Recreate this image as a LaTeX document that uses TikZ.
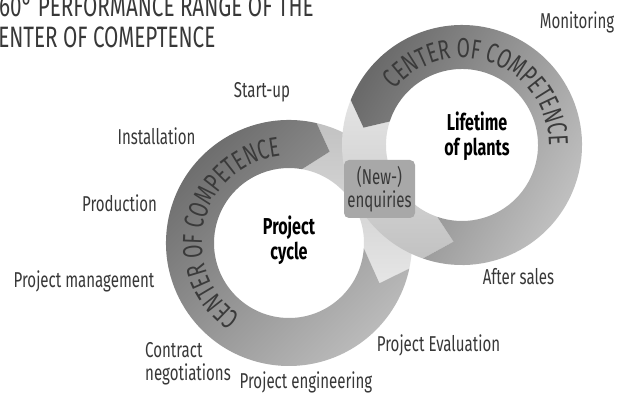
\documentclass[tikz,border=0pt]{standalone}
\usepackage{fontspec}
\setmainfont{Fira Sans}[FakeStretch=0.70]
\usepackage{tikz}
\usetikzlibrary{positioning, calc, decorations.text}

\definecolor{labelgray}{HTML}{383838}
\definecolor{ringtext}{HTML}{3A3A3A}
\definecolor{ringdark}{HTML}{6A6A6A}
\definecolor{ringpaleL}{HTML}{BABABA}
\definecolor{ringpaleR}{HTML}{C6C6C6}
\definecolor{bandtopL}{HTML}{C2C2C2}
\definecolor{bandbotL}{HTML}{E6E6E6}
\definecolor{bandtopR}{HTML}{E4E4E4}
\definecolor{bandbotR}{HTML}{C2C2C2}
\definecolor{boxgray}{HTML}{A8A8A8}

\newcommand{\labelsize}{\fontsize{21.5}{23}\selectfont}
\newcommand{\hubsize}{\fontsize{23}{25}\selectfont}
\newcommand{\titlesize}{\fontsize{29.5}{31}\selectfont}
\newcommand{\ringfont}{\fontsize{27.5}{30}\selectfont\color{ringtext}}

\begin{document}
\begin{tikzpicture}[x=1pt, y=1pt,
  stage/.style={font=\labelsize, text=labelgray, inner sep=0pt},
  hub/.style={font=\hubsize\bfseries, text=black, align=center, inner sep=0pt},
  heading/.style={font=\titlesize, text=labelgray, inner sep=0pt, anchor=base west},
  enqbox/.style={fill=boxgray, rounded corners=5pt, minimum width=71pt, minimum height=58pt,
    align=center, font=\labelsize, text=labelgray, inner sep=0pt}]
\useasboundingbox (0,0) rectangle (622,399);
\clip (0,0) rectangle (622,399);
\fill[white] (0,0) rectangle (622,399);

% ring centres
\coordinate (lc) at (289,156);
\coordinate (rc) at (462,254);

% light parts of both loops (they cross in the middle)
\shade[top color=bandtopL, bottom color=bandbotL]
  ($(lc)+(77:123pt)$) arc[start angle=77, end angle=-12, radius=123pt]
  -- ($(lc)+(-24:99pt)$) -- ($(lc)+(-4:75pt)$)
  arc[start angle=-4, end angle=80, radius=75pt]
  -- ($(lc)+(66:100pt)$) -- cycle;
\shade[top color=bandtopR, bottom color=bandbotR]
  ($(rc)+(158:120pt)$) arc[start angle=158, end angle=251, radius=120pt]
  -- ($(rc)+(265:97pt)$) -- ($(rc)+(251:76pt)$)
  arc[start angle=251, end angle=162, radius=76pt]
  -- ($(rc)+(170:100pt)$) -- cycle;

% dark arrows
\shade[top color=ringdark, bottom color=ringpaleL, shading angle=45]
  ($(lc)+(77:123pt)$) arc[start angle=77, end angle=348, radius=123pt]
  -- ($(lc)+(336:99pt)$) -- ($(lc)+(356:75pt)$)
  arc[start angle=356, end angle=80, radius=75pt]
  -- ($(lc)+(66:100pt)$) -- cycle;
\shade[top color=ringdark, bottom color=ringpaleR, shading angle=60]
  ($(rc)+(-109:120pt)$) arc[start angle=-109, end angle=158, radius=120pt]
  -- ($(rc)+(170:100pt)$) -- ($(rc)+(162:76pt)$)
  arc[start angle=162, end angle=-109, radius=76pt]
  -- ($(rc)+(-95:97pt)$) -- cycle;

% text on the rings
\path[decorate, decoration={text along path, text align=center,
    text={|\ringfont|CENTER OF COMPETENCE}}]
  ($(lc)+(248:87pt)$) arc[start angle=248, end angle=84, radius=87pt];
\path[decorate, decoration={text along path, text align=center,
    text={|\ringfont|CENTER OF COMPETENCE}}]
  ($(rc)+(148:87pt)$) arc[start angle=148, end angle=-8, radius=87pt];

% heading
\node[heading] (title1) at (-11.5,382) {360° PERFORMANCE RANGE OF THE};
\node[heading] (title2) at (-13.5,351) {CENTER OF COMEPTENCE};

% centres of the loops
\node[hub] (cycle) at (289,159) {Project\\cycle};
\node[hub] (lifetime) at (477,262.5) {Lifetime\\of plants};
\node[enqbox] (enquiries) at (379.5,210) {(New-)\\enquiries};

% stages
\node[stage, anchor=base] (monitor) at (577,370) {Monitoring};
\node[stage, anchor=base] (startup) at (262,301) {Start-up};
\node[stage, anchor=base] (install) at (156.5,254) {Installation};
\node[stage, anchor=base] (produce) at (119.5,187) {Production};
\node[stage, anchor=base] (manage) at (84,111) {Project management};
\node[stage, anchor=west, align=left] (contract) at (145,35.5) {Contract\\negotiations};
\node[stage, anchor=base] (engineer) at (306,10) {Project engineering};
\node[stage, anchor=base] (evaluate) at (438.5,47) {Project Evaluation};
\node[stage, anchor=base] (aftersales) at (518.5,114) {After sales};
\end{tikzpicture}
\end{document}
